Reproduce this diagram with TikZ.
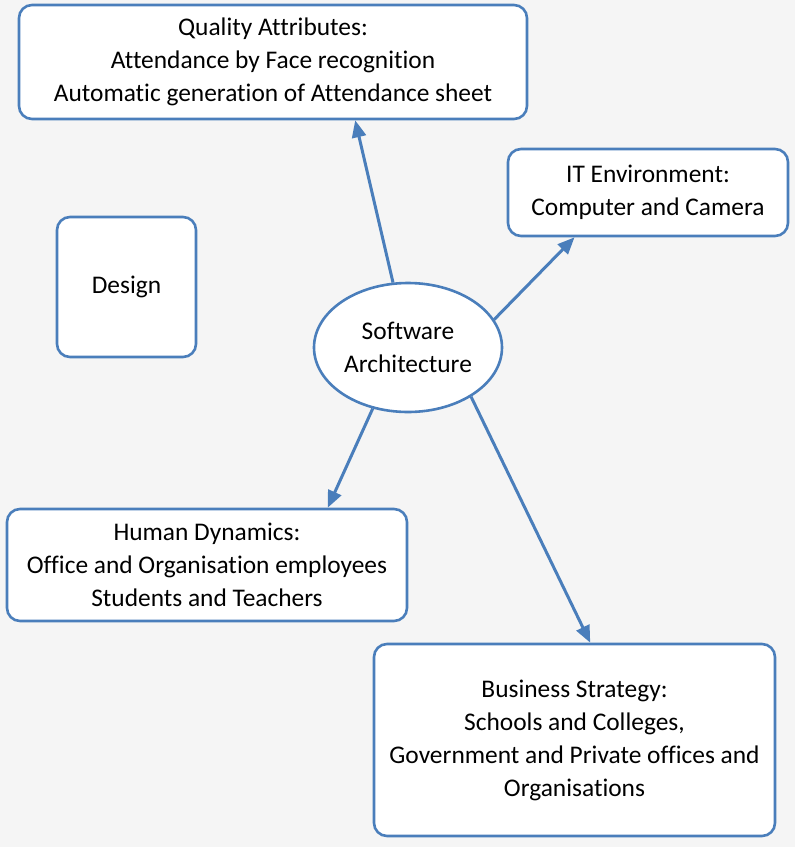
\documentclass[tikz,border=0pt]{standalone}
\usepackage{fontspec}
\setmainfont[Ligatures={NoCommon}]{Carlito}
\usetikzlibrary{calc,shapes.geometric,arrows.meta}
\definecolor{bgc}{RGB}{245,245,245}
\definecolor{bord}{RGB}{74,126,187}
\tikzset{
  box/.style={draw=bord, line width=2.6pt, fill=white, rounded corners=13pt, align=center,
    inner sep=0pt, font=\fontsize{25.4}{33}\selectfont},
  oval/.style={draw=bord, line width=2.6pt, fill=white, ellipse, align=center,
    inner sep=0pt, font=\fontsize{25.4}{33}\selectfont},
  link/.style={draw=bord, line width=3pt, -{Triangle[length=17pt,width=14pt]}}
}
\begin{document}
\begin{tikzpicture}[x=1pt,y=-1pt]
\useasboundingbox (0,0) rectangle (795,847);
\fill[bgc] (0,0) rectangle (795,847);
\node[box, minimum width=508pt, minimum height=114pt] (qa) at (273,62)
  {Quality Attributes:\\Attendance by Face recognition\\Automatic generation of Attendance sheet};
\node[box, minimum width=280pt, minimum height=87pt] (it) at (648,192.5)
  {IT Environment:\\Computer and Camera};
\node[box, minimum width=139pt, minimum height=140pt] (de) at (126.5,287) {Design};
\node[oval, minimum width=188pt, minimum height=129pt] (sa) at (408,347.5)
  {Software\\Architecture};
\node[box, minimum width=400pt, minimum height=112pt] (hd) at (207,565)
  {Human Dynamics:\\Office and Organisation employees\\Students and Teachers};
\node[box, minimum width=401pt, minimum height=192pt] (bs) at (574.5,740)
  {Business Strategy:\\Schools and Colleges,\\Government and Private offices and\\Organisations};
\draw[link] (sa.103.6) -- ($(qa.south west)!0.661!(qa.south east)$);
\draw[link] (sa.18) -- ($(it.south west)!0.24!(it.south east)$);
\draw[link] (sa.240.7) -- ($(hd.north west)!0.8!(hd.north east)$);
\draw[link] (sa.322) -- ($(bs.north west)!0.539!(bs.north east)$);
\end{tikzpicture}
\end{document}
